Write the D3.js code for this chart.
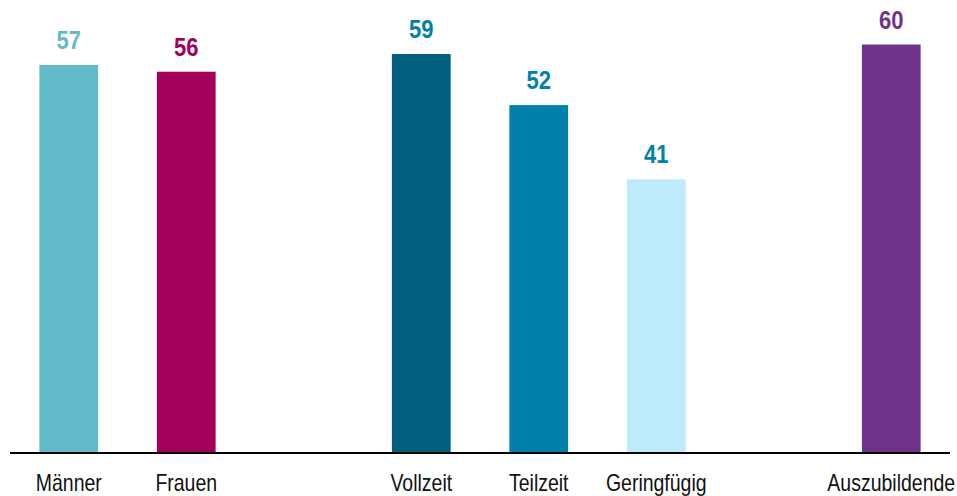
<!DOCTYPE html>
<html>
<head>
<meta charset="utf-8">
<script src="https://cdn.jsdelivr.net/npm/d3@7"></script>
<style>
  body { margin: 0; background: #fff; }
  svg { display: block; }
</style>
</head>
<body>
<div id="chart"></div>
<script>
// slots incl. two empty gaps between the groups
const slots = ["Männer", "Frauen", "gap1", "Vollzeit", "Teilzeit", "Geringfügig", "gap2", "Auszubildende"];
const categories = ["Männer", "Frauen", "Vollzeit", "Teilzeit", "Geringfügig", "Auszubildende"];
const values = [57, 56, 58.6, 51.1, 40.2, 60];
const valueLabels = ["57", "56", "59", "52", "41", "60"];
const barColors = ["#62bbc9", "#a3005a", "#005f7d", "#0080aa", "#bdebfb", "#6f3489"];
const labelColors = ["#62bbc9", "#a3005a", "#0080aa", "#0080aa", "#0080aa", "#6f3489"];

var width = 957,
  height = 496,
  baseY = 453;

var svg = d3.select("#chart")
  .append("svg")
  .attr("width", width)
  .attr("height", height);

var x = d3.scaleBand()
  .domain(slots)
  .range([10, 950])
  .paddingInner(0.5)
  .paddingOuter(0.25);

var y = d3.scaleLinear()
  .domain([0, 60])
  .range([baseY, 44.5]);

var data = categories.map(function (c, i) {
  return { name: c, value: values[i], label: valueLabels[i], fill: barColors[i], text: labelColors[i] };
});

svg.append("g")
  .selectAll("rect")
  .data(data)
  .enter().append("rect")
  .attr("x", function (d) { return x(d.name); })
  .attr("y", function (d) { return y(d.value); })
  .attr("width", x.bandwidth())
  .attr("height", function (d) { return baseY - y(d.value); })
  .attr("fill", function (d) { return d.fill; });

// value labels above the bars
svg.append("g")
  .selectAll("text")
  .data(data)
  .enter().append("text")
  .attr("transform", function (d) {
    return "translate(" + (x(d.name) + x.bandwidth() / 2) + "," + (y(d.value) - 16) + ") scale(1,1.15)";
  })
  .attr("text-anchor", "middle")
  .style("font-family", "'Liberation Sans Narrow', 'Arial Narrow', 'Liberation Sans', sans-serif")
  .style("font-weight", "bold")
  .style("font-size", "22px")
  .attr("fill", function (d) { return d.text; })
  .text(function (d) { return d.label; });

// x axis line
var axis = svg.append("g")
  .attr("transform", "translate(0," + baseY + ")")
  .call(d3.axisBottom(x).tickSize(0).tickFormat(""));
axis.select(".domain")
  .attr("d", "M10,0H950")
  .attr("stroke", "#000")
  .attr("stroke-width", 2);
axis.selectAll(".tick").remove();

// category labels
svg.append("g")
  .selectAll("text")
  .data(data)
  .enter().append("text")
  .attr("transform", function (d) {
    return "translate(" + (x(d.name) + x.bandwidth() / 2) + ",491) scale(1,1.2)";
  })
  .attr("text-anchor", "middle")
  .style("font-family", "'Liberation Sans', Arial, sans-serif")
  .style("font-size", "19.5px")
  .attr("fill", "#111")
  .text(function (d) { return d.name; });
</script>
</body>
</html>
